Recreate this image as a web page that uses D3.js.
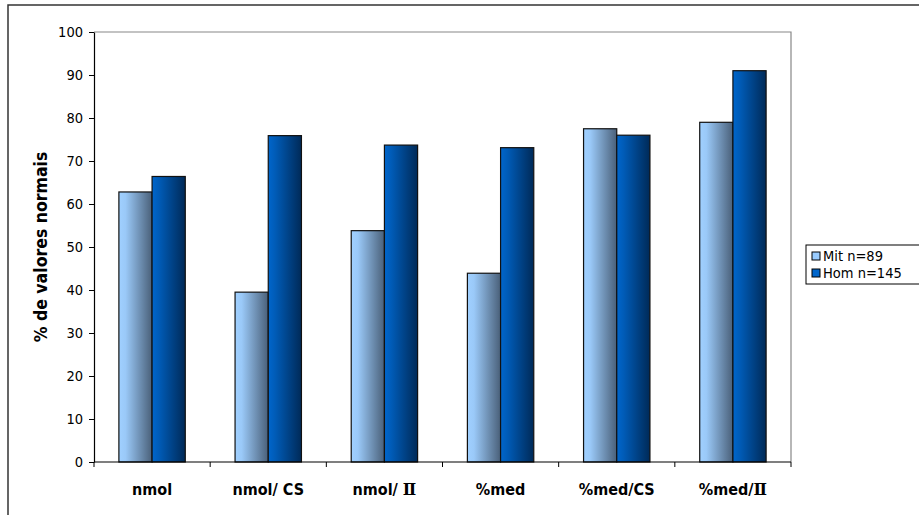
<!DOCTYPE html>
<html>
<head>
<meta charset="utf-8">
<script src="https://cdn.jsdelivr.net/npm/d3@7"></script>
<style>
  html, body { margin: 0; padding: 0; background: #fff; }
  svg { display: block; }
  .tick text { font-family: "DejaVu Sans Condensed", "DejaVu Sans", sans-serif; font-size: 14.5px; fill: #000; }
</style>
</head>
<body>
<svg id="chart" width="919" height="515"></svg>
<script>
// Share of normal values by measure, women vs men
const categories = ["nmol", "nmol/ CS", "nmol/ \u2161", "%med", "%med/CS", "%med/\u2161"];
const seriesNames = ["Mit n=89", "Hom n=145"];
const mitValues = [62.8, 39.5, 53.8, 43.9, 77.5, 79.0];
const homValues = [66.4, 75.9, 73.7, 73.1, 76.0, 91.0];
const yTickValues = [0, 10, 20, 30, 40, 50, 60, 70, 80, 90, 100];
const yTitle = "% de valores normais";

const seriesValues = [mitValues, homValues];
const svg = d3.select("#chart");
const font = '"DejaVu Sans Condensed", "DejaVu Sans", sans-serif';
const serif = '"DejaVu Serif", "Liberation Serif", serif';

const plot = { left: 94, right: 791, top: 32, bottom: 462 };

// outer chart frame (runs past the right and bottom edges)
svg.append("rect")
  .attr("x", 8).attr("y", 5).attr("width", 930).attr("height", 530)
  .attr("fill", "#fff").attr("stroke", "#333").attr("stroke-width", 1.5);

// gradients for the bars
const defs = svg.append("defs");
const gradStops = [
  ["#a0d0ff", "#9ac9f8", "#4a6079"],
  ["#0066cc", "#005cb8", "#002a58"]
];
gradStops.forEach((c, i) => {
  const g = defs.append("linearGradient").attr("id", "grad" + i)
    .attr("x1", "0%").attr("x2", "100%").attr("y1", "0%").attr("y2", "0%");
  g.append("stop").attr("offset", "0%").attr("stop-color", c[0]);
  g.append("stop").attr("offset", "20%").attr("stop-color", c[1]);
  g.append("stop").attr("offset", "100%").attr("stop-color", c[2]);
});

const x = d3.scaleBand().domain(categories).range([plot.left, plot.right]).paddingInner(0).paddingOuter(0);
const x1 = d3.scaleBand().domain(seriesNames).range([0, x.bandwidth()]).paddingInner(0).paddingOuter(0.75);
const y = d3.scaleLinear().domain([0, 100]).range([plot.bottom, plot.top]);

// plot-area frame: grey top and right edges
svg.append("path")
  .attr("d", `M${plot.left},${plot.top}H${plot.right}V${plot.bottom}`)
  .attr("fill", "none").attr("stroke", "#888").attr("stroke-width", 1.2);

// bars
seriesNames.forEach((s, si) => {
  svg.append("g").selectAll("rect")
    .data(seriesValues[si])
    .join("rect")
    .attr("x", (d, i) => x(categories[i]) + x1(s))
    .attr("y", d => y(d))
    .attr("width", x1.bandwidth())
    .attr("height", d => y(0) - y(d))
    .attr("fill", `url(#grad${si})`)
    .attr("stroke", "#111").attr("stroke-width", 1.2);
});

// y axis
const yAxis = svg.append("g")
  .attr("transform", `translate(${plot.left},0)`)
  .call(d3.axisLeft(y).tickValues(yTickValues).tickSize(5).tickPadding(6).tickSizeOuter(0));
yAxis.select(".domain").attr("stroke", "#000").attr("stroke-width", 1.2);
yAxis.selectAll(".tick line").attr("stroke", "#000");

// x axis with ticks on category boundaries
const xAxis = svg.append("g").attr("transform", `translate(0,${plot.bottom})`);
xAxis.append("line")
  .attr("x1", plot.left).attr("x2", plot.right)
  .attr("stroke", "#000").attr("stroke-width", 1.2);
const boundaries = categories.map(c => x(c)).concat([x.range()[1]]);
xAxis.selectAll("line.tk").data(boundaries).join("line")
  .attr("class", "tk")
  .attr("x1", d => d).attr("x2", d => d)
  .attr("y1", 0).attr("y2", 5)
  .attr("stroke", "#000");
const catLabels = xAxis.selectAll("text").data(categories).join("text")
  .attr("x", d => x(d) + x.bandwidth() / 2)
  .attr("y", 33)
  .attr("text-anchor", "middle")
  .attr("font-family", font).attr("font-weight", "bold").attr("font-size", 16);
// the roman numeral is set in a serif face
catLabels.each(function(d) {
  const t = d3.select(this);
  const parts = d.split("\u2161");
  t.append("tspan").text(parts[0]);
  if (parts.length > 1) t.append("tspan").attr("font-family", serif).text("\u2161");
});

// y axis title
svg.append("text")
  .attr("transform", `translate(47,${(plot.top + plot.bottom) / 2}) rotate(-90)`)
  .attr("text-anchor", "middle")
  .attr("font-family", font).attr("font-weight", "bold").attr("font-size", 17.5)
  .text(yTitle);

// legend
const legend = svg.append("g");
legend.append("rect")
  .attr("x", 806).attr("y", 245).attr("width", 130).attr("height", 39)
  .attr("fill", "#fff").attr("stroke", "#000").attr("stroke-width", 1);
const legendColors = ["#99ccff", "#0066cc"];
seriesNames.forEach((s, i) => {
  const yy = 256 + i * 17;
  legend.append("rect")
    .attr("x", 812).attr("y", yy - 4).attr("width", 8).attr("height", 8)
    .attr("fill", legendColors[i]).attr("stroke", "#000").attr("stroke-width", 1);
  legend.append("text")
    .attr("x", 823).attr("y", yy + 5)
    .attr("font-family", font).attr("font-size", 14.5)
    .text(s);
});
</script>
</body>
</html>
